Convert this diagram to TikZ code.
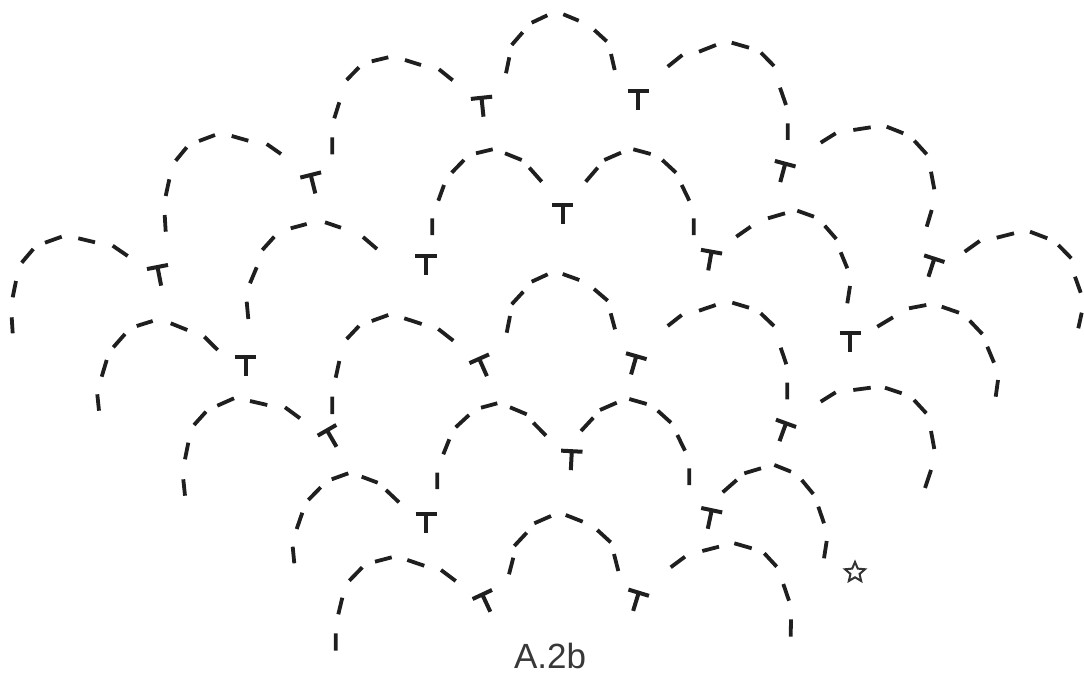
\documentclass[tikz,border=0pt]{standalone}
\usepackage{fontspec}
\setmainfont{Liberation Sans}
\usetikzlibrary{shapes.geometric}
\tikzset{
  scalearc/.style={line width=3.8pt,color=black!88,line cap=butt},
  teemark/.style={line width=4pt,color=black!88,line cap=butt},
  starmark/.style={star,star points=5,star point ratio=2.2,draw=black!80,line width=2pt,inner sep=0pt,minimum size=21pt},
  figlabel/.style={anchor=base,text=black!78,font=\fontsize{35}{35}\selectfont}
}
\begin{document}
\begin{tikzpicture}[x=1pt,y=-1pt]
\useasboundingbox (0,0) rectangle (1084,679);
% --- top row
\draw[scalearc] (332.3,154.3) -- (332.3,137.3) (334.3,118.3) -- (339.3,102.3) (346.7,80) -- (359,67.3) (371.7,61.3) -- (388.3,57.3) (405,60) -- (421,65) (439,69.3) -- (452.7,80.3);
\draw[scalearc] (506,73.3) -- (509.3,57.3) (511.7,45) -- (522.7,32.3) (531.7,22.7) -- (547.3,15.3) (563.3,14.3) -- (578.7,20.7) (594.3,30) -- (606.7,41.3) (611,54) -- (614.7,70);
\draw[scalearc] (667.7,66.7) -- (682.3,55) (699,51.7) -- (716,45) (731.7,42.7) -- (749,47.7) (761,52.7) -- (774,66) (780,87.7) -- (786,105) (787.7,123.3) -- (787.7,140);
\draw[scalearc] (820.7,142.7) -- (835.7,133.3) (853.3,130) -- (870.7,127.3) (886.7,126.7) -- (903.3,133.3) (914.3,140.7) -- (926.7,154.3) (931,171.7) -- (934.3,189.3) (931.7,210) -- (926.7,226.7);
\draw[scalearc] (165.7,231.7) -- (164.7,215) (165.7,196) -- (169.3,179.3) (175.7,160.7) -- (186.7,147.3) (199,141) -- (215,135) (231.7,136) -- (248.3,140.7) (266.7,144) -- (281,154);
% --- second row
\draw[scalearc] (12.7,333.3) -- (11.7,317.3) (12.7,297.3) -- (16,281) (21.7,262.7) -- (33.3,249) (45,242.7) -- (61.7,236.7) (78.3,238.3) -- (95,242.3) (112.7,245.7) -- (127.7,256);
\draw[scalearc] (248.3,319) -- (246.7,301.7) (250,283.3) -- (256.7,267.3) (262.3,250) -- (274.3,236.7) (290.7,228.3) -- (306.7,224) (325,222.3) -- (341,227.7) (363,237) -- (377,249);
\draw[scalearc] (432.3,235) -- (432.3,218.3) (438.3,200.7) -- (444,185) (451.7,172.7) -- (464,160) (476,153.3) -- (492.7,149.3) (505,153.3) -- (521.7,160) (529.3,167.7) -- (541.7,181.7);
\draw[scalearc] (585.7,181.7) -- (597.7,167.7) (604.3,160) -- (621,152.7) (633.3,149.3) -- (650.7,154) (662.3,160) -- (676,172.7) (681.7,185) -- (689.3,200.7) (693.7,218.3) -- (693.7,235);
\draw[scalearc] (736.3,236.7) -- (750.7,226.7) (768,218.3) -- (785,213.3) (797.3,210.7) -- (814,216.7) (824.7,225.7) -- (836.3,239) (840.7,252.3) -- (847.3,268.3) (850,286) -- (847.3,303.3);
\draw[scalearc] (964.7,251.7) -- (979.7,241) (996.7,237.7) -- (1014,233.3) (1030,231.7) -- (1047.3,238.3) (1058.3,245) -- (1071.3,258.3) (1075,276.7) -- (1080.7,292.7) (1081.7,312.7) -- (1078.3,328.3);
% --- third row
\draw[scalearc] (99,410.7) -- (97.3,394.3) (101.7,376.7) -- (106.7,360) (113.3,347.3) -- (125,334) (136.7,326) -- (152.7,321) (170.7,323.3) -- (187.3,330) (204.3,336.7) -- (217.7,350);
\draw[scalearc] (332.3,414) -- (332.3,396.7) (335.7,377.7) -- (339.3,361) (346.7,339) -- (359,326) (371.7,321) -- (388.3,315) (404.3,318.3) -- (421.7,324) (438.3,329) -- (453.3,340.7);
\draw[scalearc] (506.7,332.7) -- (510,316) (511.7,304.3) -- (523.3,291.7) (531.7,281.7) -- (547.7,274.3) (562.7,274) -- (579.3,280) (594,289) -- (607.7,300.7) (610.7,313.3) -- (615,329.3);
\draw[scalearc] (667.7,326) -- (681.7,315) (699,310.7) -- (715.7,305) (732.3,302.7) -- (749,307.7) (760.7,313.3) -- (774,326) (780.7,347.7) -- (786.3,364.3) (787.3,382.7) -- (787.3,399.3);
\draw[scalearc] (877.3,326.7) -- (893,317.3) (909,308.3) -- (926.3,305) (941.7,306.7) -- (959,312.7) (969.7,320.7) -- (982.3,334) (987.3,346.7) -- (994,362.7) (998,380) -- (995.7,396.7);
% --- fourth row
\draw[scalearc] (185,495.7) -- (183.3,479.3) (185,459.3) -- (188.3,442.7) (194,425) -- (206,411.7) (217.3,405.7) -- (234,398.3) (250,401) -- (267.3,405) (285,407.3) -- (300,418.3);
\draw[scalearc] (437.3,489) -- (437.3,472.7) (443.3,454.3) -- (449.3,439.3) (455.7,427.3) -- (469,415) (481,407.7) -- (497.3,403.3) (510,407.3) -- (526.7,414.3) (533.3,422.7) -- (546,435.7);
\draw[scalearc] (581,431) -- (593.3,417.7) (600,410) -- (616.7,402.7) (629.3,399) -- (646.7,404) (657.7,410.7) -- (671,422.7) (677.3,435) -- (685,450.7) (689.3,468.3) -- (689.3,485);
\draw[scalearc] (820.7,401.7) -- (835.7,392.3) (853.3,390) -- (870.7,387.7) (885,387.7) -- (901.7,393.3) (914,400) -- (926.3,413.3) (931,431) -- (934.3,449) (931,470) -- (925,488);
% --- fifth row
\draw[scalearc] (294.3,563.3) -- (292.7,546.7) (296.7,529) -- (302.3,512.7) (308.3,500) -- (320.7,487.3) (331.7,479.3) -- (348.3,473.3) (361.7,476.7) -- (377.7,482.7) (386,490) -- (399,502.3);
\draw[scalearc] (722.7,492.3) -- (736.7,480) (744.3,473.3) -- (761,468.3) (774.3,465) -- (791,471.7) (801.7,480) -- (813.3,494) (818.3,506.7) -- (824,523.3) (826.7,541) -- (824,558.3);
% --- bottom row
\draw[scalearc] (335.7,650.7) -- (335.7,633.3) (338.3,614.3) -- (342.3,597.7) (349.3,580.7) -- (362.3,567.3) (375,561.7) -- (391.7,557.3) (407.3,560) -- (424.3,565.7) (441,570) -- (455.7,581);
\draw[scalearc] (509,574.3) -- (513.3,557.7) (514.3,546) -- (526.7,532.7) (534.3,523.3) -- (551,516) (565.7,515) -- (582.7,521.7) (597.3,530) -- (610.7,542.3) (614,554) -- (618.3,571);
\draw[scalearc] (670.7,567.3) -- (685,556.7) (702.3,551) -- (719,546.7) (734.3,543.3) -- (751.7,548.3) (764.3,553.3) -- (776.7,566.7) (783.3,584) -- (789,600.7) (791,619.3) -- (790.7,636.7);
% --- T marks
\foreach \x/\y/\a in {481.5/97.8/6,638.3/90.7/0,310.7/175/14,785.2/163.7/-15,562.5/205/0,711.5/251.7/-10,157.5/267/11,425.8/256/0,934.3/258.7/-18,850.2/333.3/0,245.5/357.3/0,479.2/358.8/24,636.3/356.2/-16,327/430.3/30,786/423.3/-20,571.8/451.2/-3,711.7/510.2/-12,426.2/514/0,482.3/594.5/25,638.7/592.7/-17}
  {\draw[teemark,shift={(\x,\y)},rotate=\a] (-10.7,0) -- (10.7,0) (0,0) -- (0,19);}
% --- star and caption
\node[starmark] (startip) at (855,572.5) {};
\node[figlabel] (caption) at (550,668) {A.2b};
\end{tikzpicture}
\end{document}
